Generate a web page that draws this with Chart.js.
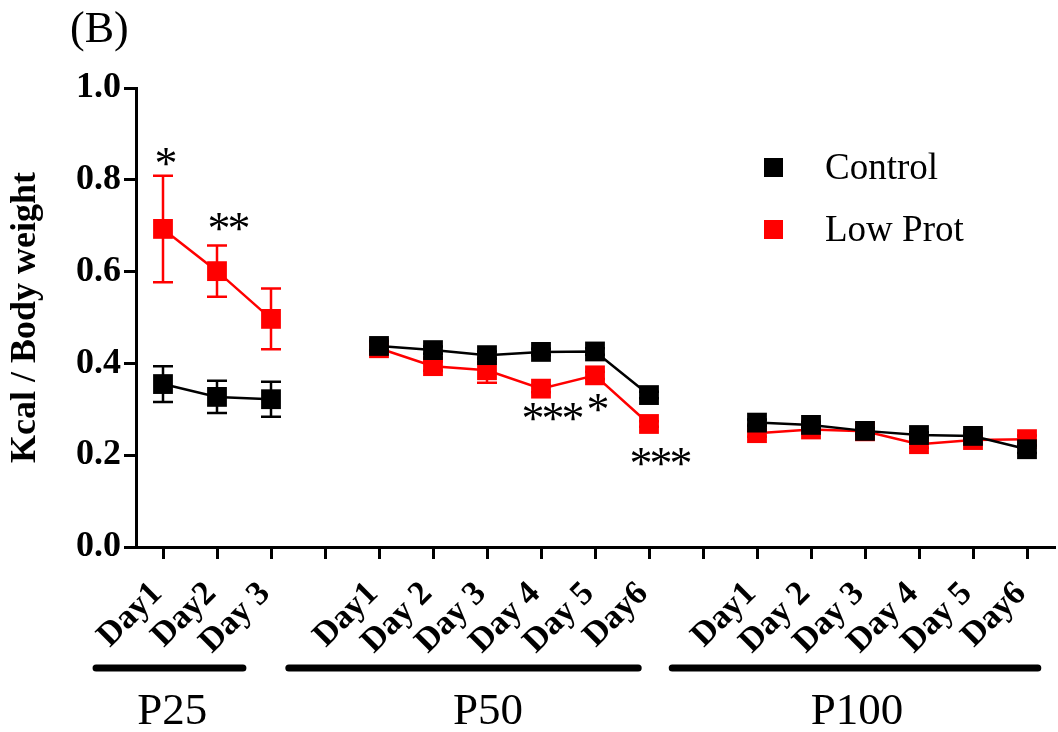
<!DOCTYPE html>
<html>
<head>
<meta charset="utf-8">
<script src="https://cdn.jsdelivr.net/npm/chart.js@4/dist/chart.umd.min.js"></script>
<style>
  html, body { margin: 0; padding: 0; background: #fff; }
  #wrap { width: 1058px; height: 732px; position: relative; }
</style>
</head>
<body>
<div id="wrap"><canvas id="chart"></canvas></div>
<script>
// categories ('' = gap between age groups)
const days = ["Day1", "Day2", "Day 3", "", "Day1", "Day 2", "Day 3", "Day 4", "Day 5", "Day6", "", "Day1", "Day 2", "Day 3", "Day 4", "Day 5", "Day6"];

const controlMean = [0.355, 0.327, 0.322, null, 0.438, 0.429, 0.418, 0.425, 0.426, 0.331, null, 0.271, 0.266, 0.253, 0.244, 0.242, 0.213];
const controlErr  = [0.039, 0.035, 0.038, null, 0.010, 0.008, 0.008, 0.007, 0.007, 0.007, null, 0.007, 0.006, 0.006, 0.006, 0.006, 0.008];
const lowProtMean = [0.693, 0.601, 0.497, null, 0.433, 0.394, 0.385, 0.345, 0.374, 0.268, null, 0.248, 0.256, 0.252, 0.224, 0.233, 0.235];
const lowProtErr  = [0.116, 0.056, 0.066, null, 0.012, 0.010, 0.027, 0.008, 0.008, 0.006, null, 0.008, 0.008, 0.006, 0.008, 0.008, 0.008];

const yTicks = [0, 0.2, 0.4, 0.6, 0.8, 1.0];

// age groups under the x axis, extents in category units
const groups = [
  { label: "P25", start: -1.24, end: 1.48, labelAt: 0.17 },
  { label: "P50", start: 2.33, end: 8.8, labelAt: 6.02 },
  { label: "P100", start: 9.43, end: 16.2, labelAt: 12.85 }
];

// significance marks: category index, value where the mark sits
const marks = [
  { index: 0, value: 0.85, text: "*" },
  { index: 1, value: 0.708, text: "**" },
  { index: 7, value: 0.294, text: "***" },
  { index: 8, value: 0.314, text: "*" },
  { index: 9, value: 0.196, text: "***" }
];

const SERIF = "'Liberation Serif', 'Times New Roman', serif";

const errorBarPlugin = {
  id: "errorBars",
  beforeDatasetDraw(chart, args) {
    const ds = chart.data.datasets[args.index];
    if (!ds.errors) return;
    const ctx = chart.ctx;
    const y = chart.scales.y;
    ctx.save();
    ctx.strokeStyle = ds.borderColor;
    ctx.lineWidth = 2.5;
    args.meta.data.forEach((pt, i) => {
      const m = ds.data[i], e = ds.errors[i];
      if (m == null || e == null) return;
      const top = y.getPixelForValue(m + e);
      const bot = y.getPixelForValue(m - e);
      ctx.beginPath();
      ctx.moveTo(pt.x, top); ctx.lineTo(pt.x, bot);
      ctx.moveTo(pt.x - 10, top); ctx.lineTo(pt.x + 10, top);
      ctx.moveTo(pt.x - 10, bot); ctx.lineTo(pt.x + 10, bot);
      ctx.stroke();
    });
    ctx.restore();
  }
};

const decorPlugin = {
  id: "decor",
  afterDraw(chart) {
    const ctx = chart.ctx;
    const x = chart.scales.x;
    const y = chart.scales.y;
    ctx.save();

    // panel letter
    ctx.fillStyle = "#000";
    ctx.font = "44px " + SERIF;
    ctx.textAlign = "left";
    ctx.textBaseline = "alphabetic";
    ctx.fillText("(B)", 70, 42);

    // significance asterisks, one glyph at a time so they sit close
    ctx.font = "46px " + SERIF;
    ctx.textAlign = "center";
    marks.forEach(m => {
      const n = m.text.length;
      const px = x.getPixelForValue(m.index) + (n > 1 ? 12 : 3);
      const py = y.getPixelForValue(m.value);
      for (let k = 0; k < n; k++) {
        ctx.fillText("*", px + (k - (n - 1) / 2) * 20, py + 22);
      }
    });

    // legend
    chart.data.datasets.forEach((ds, i) => {
      const cy = 168 + i * 62;
      ctx.fillStyle = ds.borderColor;
      ctx.fillRect(764, cy - 10, 19, 19);
      ctx.fillStyle = "#000";
      ctx.font = "37px " + SERIF;
      ctx.textAlign = "left";
      ctx.textBaseline = "middle";
      ctx.fillText(ds.label, 825, cy + 1);
    });

    // group bars and labels
    ctx.strokeStyle = "#000";
    ctx.lineWidth = 7;
    ctx.lineCap = "round";
    ctx.textAlign = "center";
    ctx.textBaseline = "alphabetic";
    ctx.font = "45px " + SERIF;
    groups.forEach(g => {
      const x0 = x.getPixelForValue(g.start);
      const x1 = x.getPixelForValue(g.end);
      ctx.beginPath();
      ctx.moveTo(x0, 668); ctx.lineTo(x1, 668);
      ctx.stroke();
      ctx.fillText(g.label, x.getPixelForValue(g.labelAt), 724);
    });
    ctx.restore();
  }
};

new Chart(document.getElementById("chart"), {
  type: "line",
  data: {
    labels: days,
    datasets: [
      {
        label: "Control",
        data: controlMean,
        errors: controlErr,
        borderColor: "#000000",
        backgroundColor: "#000000",
        borderWidth: 2.5,
        pointStyle: "rect",
        pointRadius: 14,
        pointBorderWidth: 0,
        spanGaps: false
      },
      {
        label: "Low Prot",
        data: lowProtMean,
        errors: lowProtErr,
        borderColor: "#ff0000",
        backgroundColor: "#ff0000",
        borderWidth: 2.5,
        pointStyle: "rect",
        pointRadius: 14,
        pointBorderWidth: 0,
        spanGaps: false
      }
    ]
  },
  options: {
    responsive: true,
    maintainAspectRatio: false,
    animation: false,
    layout: { autoPadding: false, padding: { top: 88, right: 4, bottom: 75, left: 0 } },
    plugins: {
      legend: { display: false },
      tooltip: { enabled: false }
    },
    scales: {
      x: {
        type: "category",
        offset: true,
        afterFit(scale) {
          scale.height = 110;
          scale.paddingLeft = 0;
          scale.paddingRight = 0;
        },
        border: { display: true, color: "#000", width: 3 },
        grid: { display: true, drawOnChartArea: false, drawTicks: true, tickLength: 12, color: "#000", lineWidth: 3 },
        ticks: {
          autoSkip: false,
          maxRotation: 45,
          minRotation: 45,
          padding: 15,
          labelOffset: -6,
          color: "#000",
          font: { family: SERIF, size: 34, weight: "bold" }
        }
      },
      y: {
        min: 0,
        max: 1.0,
        afterFit(scale) { scale.width = 136; },
        afterBuildTicks(scale) { scale.ticks = yTicks.map(v => ({ value: v })); },
        border: { display: true, color: "#000", width: 3 },
        grid: { display: true, drawOnChartArea: false, drawTicks: true, tickLength: 12, color: "#000", lineWidth: 3 },
        ticks: {
          padding: 3,
          color: "#000",
          font: { family: SERIF, size: 36, weight: "bold" },
          callback: v => Number(v).toFixed(1)
        },
        title: {
          display: true,
          text: "Kcal / Body weight",
          color: "#000",
          padding: { top: 4, bottom: 0 },
          font: { family: SERIF, size: 36, weight: "bold" }
        }
      }
    }
  },
  plugins: [errorBarPlugin, decorPlugin]
});
</script>
</body>
</html>
